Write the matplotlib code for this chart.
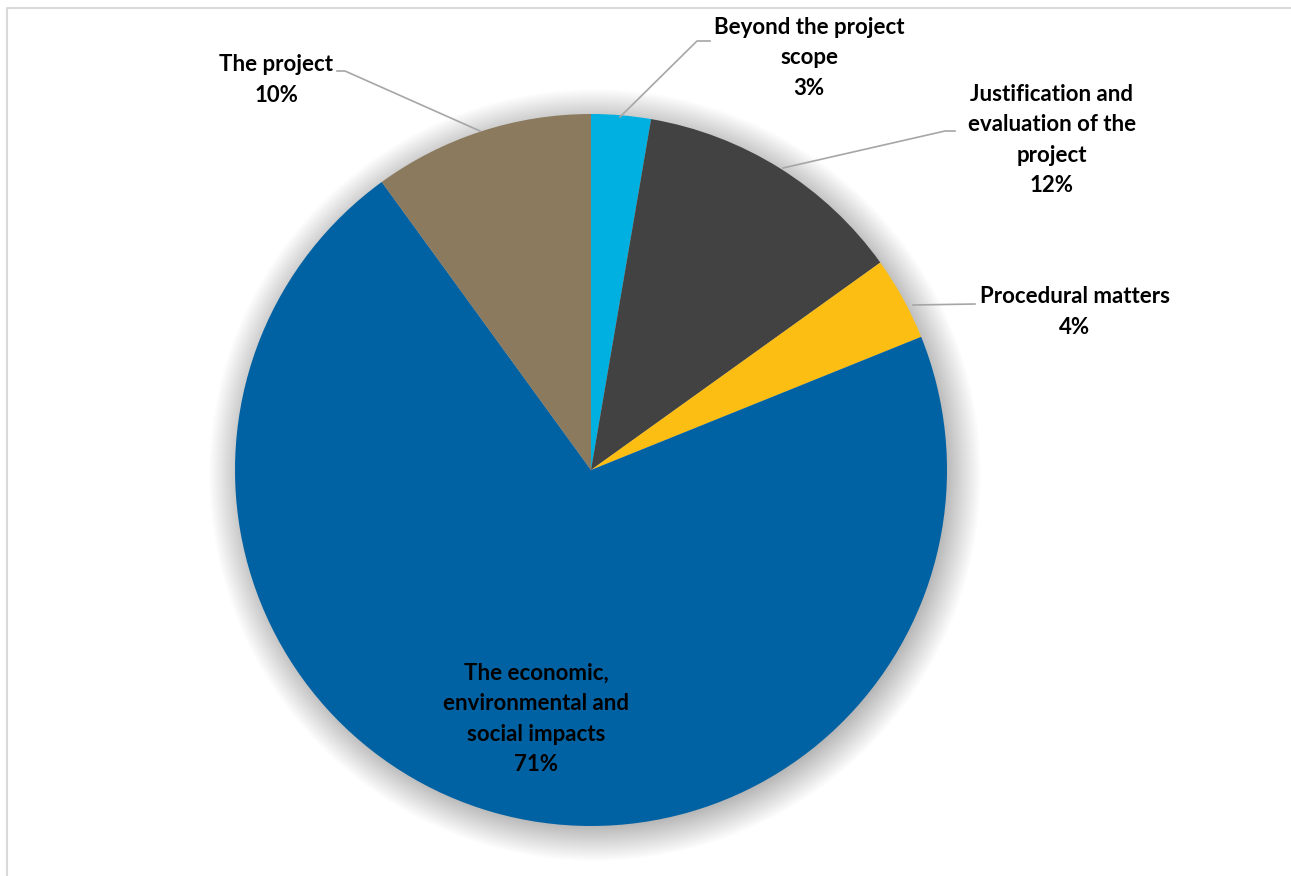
import numpy as np
import matplotlib.pyplot as plt
from matplotlib.patches import Circle

# slices, clockwise from 12 o'clock
labels = ['Beyond the project\nscope',
          'Justification and\nevaluation of the\nproject',
          'Procedural matters',
          'The economic,\nenvironmental and\nsocial impacts',
          'The project']
shares = [2.7, 12.4, 3.8, 71.1, 10.0]
colors = ['#00B0E0', '#424242', '#FCBE12', '#0062A3', '#8B7A5E']

W, H = 1291, 876
fig = plt.figure(figsize=(W / 100, H / 100), dpi=100)
ax = fig.add_axes([0, 0, 1, 1])

cx, cy, R = 591, H - 470, 356

# chart frame (only top and left visible)
ax.plot([7, 7, W + 5], [-5, H - 8, H - 8], color='#D9D9D9', lw=1.5, zorder=0)

# soft shadow
for i in range(36):
   ax.add_patch(Circle((cx + 4, cy - 5), R + 30 - i, color='#000000', alpha=0.006, lw=0, zorder=1))

ax.pie(shares, colors=colors, startangle=90, counterclock=False, radius=R, center=(cx, cy),
       wedgeprops=dict(linewidth=0), frame=True)
ax.set_xlim(0, W)
ax.set_ylim(0, H)
ax.set_aspect('equal')
ax.axis('off')

fnt = dict(family='Lato', fontweight='bold', fontsize=16, color='#000000',
           ha='center', va='center', linespacing=1.55, zorder=5)

# label centres and leader lines, in pixel coords from top
lab_pos = [(809, 58), (1052, 140), (1075, 312), (536, 719), (276, 80)]
leaders = [
   [(620, 117), (697, 41), (710, 41)],
   [(783, 168), (945, 131), (955, 131)],
   [(913, 305), (975, 304)],
   None,
   [(480, 131), (345, 71), (337, 71)],
]

for lab, v, (x, y), ld in zip(labels, shares, lab_pos, leaders):
   ax.text(x, H - y, '%s\n%d%%' % (lab, round(v)), **fnt)
   if ld:
      xs = [p[0] for p in ld]
      ys = [H - p[1] for p in ld]
      ax.plot(xs, ys, color='#A6A6A6', lw=1.2, zorder=4)

fig.savefig('out.png', dpi=100)
